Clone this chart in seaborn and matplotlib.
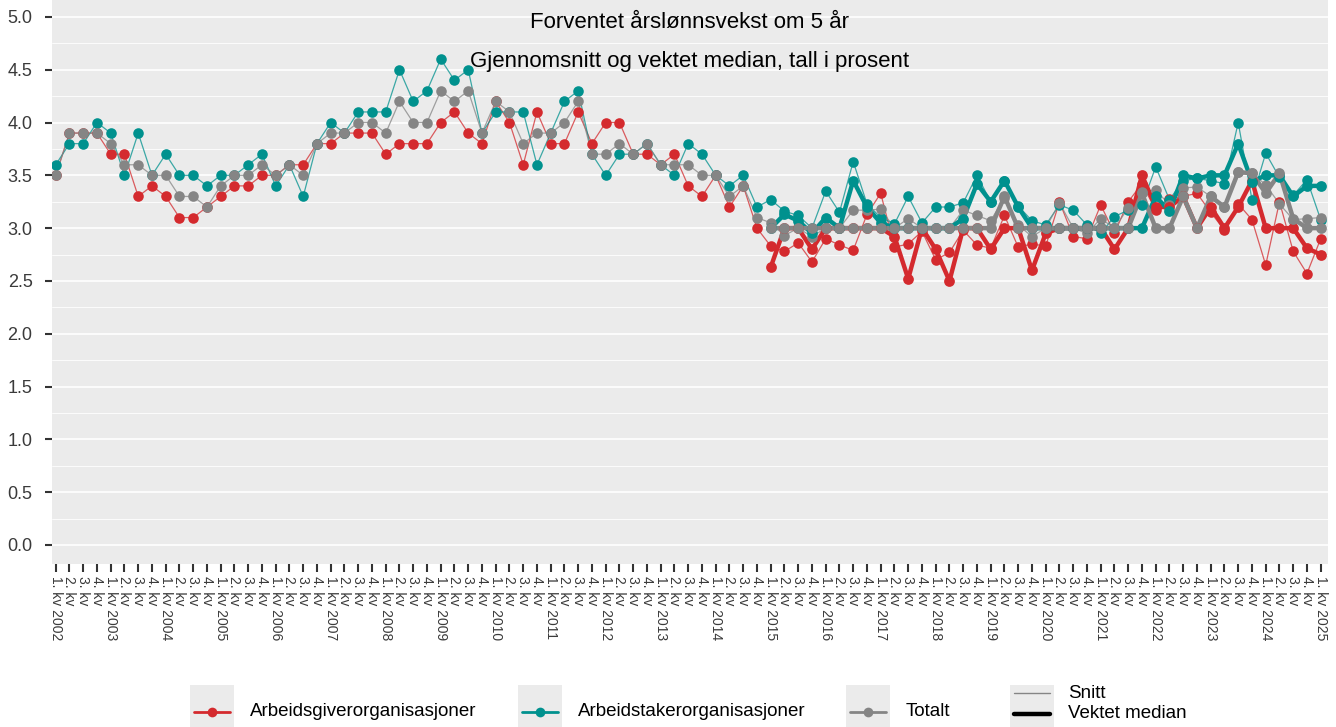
import numpy as np
import pandas as pd
import matplotlib
matplotlib.use("Agg")
import matplotlib.pyplot as plt
import seaborn as sns
from matplotlib.lines import Line2D
from matplotlib.patches import Rectangle

# ---------------- data ----------------
years = list(range(2002, 2026))
quarter_labels = [f"{q}. kv {y}" if q == 1 else f"{q}. kv" for y in years for q in range(1, 5)][:93]

groups = ["Arbeidsgiverorganisasjoner", "Arbeidstakerorganisasjoner", "Totalt"]
colors = ["#D42A2E", "#00918E", "#858585"]
measures = ["Snitt", "Vektet median"]

red_mean = [3.5, 3.9, 3.9, 3.9, 3.7, 3.7, 3.3, 3.4, 3.3, 3.1, 3.1, 3.2,
            3.3, 3.4, 3.4, 3.5, 3.5, 3.6, 3.6, 3.8, 3.8, 3.9, 3.9, 3.9,
            3.7, 3.8, 3.8, 3.8, 4.0, 4.1, 3.9, 3.8, 4.2, 4.0, 3.6, 4.1,
            3.8, 3.8, 4.1, 3.8, 4.0, 4.0, 3.7, 3.7, 3.6, 3.7, 3.4, 3.3,
            3.5, 3.2, 3.4, 3.0,
            2.83, 2.78, 2.86, 2.68, 2.90, 2.84, 2.79, 3.13, 3.33, 2.82,
            2.85, 2.97, 2.70, 2.77, 2.98, 2.84, 2.81, 3.12, 2.82, 2.85,
            2.83, 3.25, 2.92, 2.90, 3.22, 2.95, 3.25, 3.42, 3.17, 3.28,
            3.30, 3.33, 3.15, 2.98, 3.23, 3.08, 2.65, 3.25, 2.78, 2.57, 2.90]

teal_mean = [3.6, 3.8, 3.8, 4.0, 3.9, 3.5, 3.9, 3.5, 3.7, 3.5, 3.5, 3.4,
             3.5, 3.5, 3.6, 3.7, 3.4, 3.6, 3.3, 3.8, 4.0, 3.9, 4.1, 4.1,
             4.1, 4.5, 4.2, 4.3, 4.6, 4.4, 4.5, 3.9, 4.1, 4.1, 4.1, 3.6,
             3.9, 4.2, 4.3, 3.7, 3.5, 3.7, 3.7, 3.8, 3.6, 3.5, 3.8, 3.7,
             3.5, 3.4, 3.5, 3.2,
             3.27, 3.16, 3.12, 3.00, 3.35, 3.15, 3.63, 3.23, 3.10, 3.04,
             3.30, 3.05, 3.20, 3.20, 3.24, 3.50, 3.25, 3.45, 3.21, 3.07,
             3.03, 3.22, 3.17, 3.03, 2.95, 3.11, 3.17, 3.22, 3.58, 3.27,
             3.45, 3.47, 3.45, 3.42, 4.00, 3.27, 3.71, 3.48, 3.31, 3.46, 3.08]

grey_mean = [3.5, 3.9, 3.9, 3.9, 3.8, 3.6, 3.6, 3.5, 3.5, 3.3, 3.3, 3.2,
             3.4, 3.5, 3.5, 3.6, 3.5, 3.6, 3.5, 3.8, 3.9, 3.9, 4.0, 4.0,
             3.9, 4.2, 4.0, 4.0, 4.3, 4.2, 4.3, 3.9, 4.2, 4.1, 3.8, 3.9,
             3.9, 4.0, 4.2, 3.7, 3.7, 3.8, 3.7, 3.8, 3.6, 3.6, 3.6, 3.5,
             3.5, 3.3, 3.4, 3.1,
             3.05, 2.93, 3.00, 2.92, 3.00, 3.00, 3.17, 3.17, 3.18, 3.00,
             3.09, 3.00, 3.00, 3.00, 3.17, 3.12, 3.07, 3.29, 3.03, 2.92,
             3.00, 3.24, 3.00, 2.95, 3.09, 3.00, 3.19, 3.34, 3.36, 3.22,
             3.38, 3.39, 3.30, 3.20, 3.53, 3.52, 3.41, 3.23, 3.08, 3.09, 3.10]

# weighted median, from 1. kv 2015
median_start_label = "1. kv 2015"
red_median = [2.63, 3.00, 3.00, 2.80, 3.00, 3.00, 3.00, 3.00, 3.00, 2.92,
              2.52, 3.00, 2.80, 2.50, 3.00, 3.00, 2.80, 3.00, 3.00, 2.60,
              2.95, 3.00, 3.00, 3.00, 3.00, 2.80, 3.00, 3.50, 3.20, 3.20,
              3.30, 3.00, 3.20, 3.00, 3.20, 3.45, 3.00, 3.00, 3.00, 2.81, 2.75]
teal_median = [3.00, 3.13, 3.07, 2.95, 3.10, 3.00, 3.45, 3.20, 3.05, 3.00,
               3.00, 3.00, 3.00, 3.00, 3.09, 3.42, 3.25, 3.45, 3.20, 3.00,
               3.00, 3.00, 3.00, 3.00, 3.00, 3.00, 3.00, 3.00, 3.30, 3.16,
               3.50, 3.47, 3.50, 3.50, 3.80, 3.44, 3.50, 3.50, 3.30, 3.40, 3.40]
grey_median = [3.00, 3.00, 3.00, 3.00, 3.00, 3.00, 3.00, 3.00, 3.00, 3.00,
               3.00, 3.00, 3.00, 3.00, 3.00, 3.00, 3.00, 3.30, 3.00, 3.00,
               3.00, 3.00, 3.00, 3.00, 3.00, 3.00, 3.00, 3.33, 3.00, 3.00,
               3.30, 3.00, 3.30, 3.20, 3.53, 3.52, 3.33, 3.52, 3.09, 3.00, 3.00]

title1 = "Forventet årslønnsvekst om 5 år"
title2 = "Gjennomsnitt og vektet median, tall i prosent"

# ---------------- long table ----------------
start = quarter_labels.index(median_start_label)
series = {
    ("Snitt", groups[0]): (red_mean, 0),
    ("Snitt", groups[1]): (teal_mean, 0),
    ("Snitt", groups[2]): (grey_mean, 0),
    ("Vektet median", groups[0]): (red_median, start),
    ("Vektet median", groups[1]): (teal_median, start),
    ("Vektet median", groups[2]): (grey_median, start),
}
rows = []
for (m, g), (vals, off) in series.items():
    for k, v in enumerate(vals):
        rows.append({"pos": off + k, "kvartal": quarter_labels[off + k],
                     "verdi": v, "gruppe": g, "mål": m})
df = pd.DataFrame(rows)

# ---------------- plot ----------------
sns.set_theme(style="darkgrid")
plt.rcParams["font.family"] = ["Liberation Sans", "DejaVu Sans"]

W, H = 1336, 727
fig = plt.figure(figsize=(W / 100, H / 100), dpi=100)
fig.patch.set_facecolor("white")
px_l, px_r, px_t, px_b = 52, 1328, 0, 564
ax = fig.add_axes([px_l / W, (H - px_b) / H, (px_r - px_l) / W, (px_b - px_t) / H])
ax.set_facecolor("#EBEBEB")

palette = dict(zip(groups, colors))
style = {"Snitt": dict(lw=0.9, alpha=0.75, s=58),
         "Vektet median": dict(lw=3.2, alpha=1.0, s=60)}

for m in measures:
    for g in groups:
        sub = df[(df["mål"] == m) & (df["gruppe"] == g)]
        st = style[m]
        sns.lineplot(data=sub, x="pos", y="verdi", color=palette[g], linewidth=st["lw"],
                     alpha=st["alpha"], ax=ax, legend=False, zorder=3)
        sns.scatterplot(data=sub, x="pos", y="verdi", color=palette[g], s=st["s"],
                        linewidth=0, ax=ax, legend=False, zorder=4)

ax.set_xlim(-0.27, 92.53)
ax.set_ylim(-0.18, 5.16)
ax.set_xlabel("")
ax.set_ylabel("")

ax.set_xticks(range(len(quarter_labels)))
ax.set_xticklabels(quarter_labels, rotation=270, va="top", ha="center",
                   fontsize=10, color="#3A3A3A")
q1_pos = [i for i, lab in enumerate(quarter_labels) if lab.startswith("1. kv")]
ax.set_xticks(q1_pos, minor=True)

yt = np.arange(0, 5.01, 0.5)
ax.set_yticks(yt)
ax.set_yticklabels([f"{v:.1f}" for v in yt], fontsize=13, color="#3A3A3A")
ax.set_yticks(np.arange(0.25, 5.0, 0.5), minor=True)

ax.grid(False)
ax.yaxis.grid(True, which="major", color="white", linewidth=1.2)
ax.yaxis.grid(True, which="minor", color="white", linewidth=0.6)
ax.xaxis.grid(True, which="minor", color="white", linewidth=1.2)
ax.set_axisbelow(True)
for sp in ax.spines.values():
    sp.set_visible(False)
ax.tick_params(axis="x", which="major", length=6, width=1.5, color="#333333",
               bottom=True, pad=3)
ax.tick_params(axis="y", which="major", length=5, width=1.5, color="#333333",
               left=True, pad=9)
ax.tick_params(axis="both", which="minor", length=0)

ax.text(0.5, 1 - 22 / 564, title1, transform=ax.transAxes, ha="center", va="center",
        fontsize=16, color="black")
ax.text(0.5, 1 - 62 / 564, title2, transform=ax.transAxes, ha="center", va="center",
        fontsize=16, color="black")

# ---------------- legend (drawn manually, ggplot-like) ----------------
def fx(x):
    return x / W

def fy(y):
    return (H - y) / H

key_top, key_bot = 685, 727
key_w = 44
legend_items = [(190, 250, groups[0], colors[0]),
                (518, 578, groups[1], colors[1]),
                (846, 906, groups[2], colors[2])]
for kx, tx, lab, col in legend_items:
    fig.patches.append(Rectangle((fx(kx), fy(key_bot)), fx(key_w), (key_bot - key_top) / H,
                                 transform=fig.transFigure, facecolor="#EBEBEB",
                                 edgecolor="none", zorder=1))
    ymid = 712
    fig.lines.append(Line2D([fx(kx + 4), fx(kx + key_w - 4)], [fy(ymid), fy(ymid)],
                            transform=fig.transFigure, color=col, linewidth=2.0, zorder=2))
    fig.lines.append(Line2D([fx(kx + key_w / 2)], [fy(ymid)], transform=fig.transFigure,
                            color=col, marker="o", markersize=7, markeredgewidth=0,
                            linestyle="none", zorder=3))
    fig.text(fx(tx), fy(ymid), lab, ha="left", va="center", fontsize=13.5, color="black")

kx = 1010
fig.patches.append(Rectangle((fx(kx), fy(key_bot)), fx(key_w), (key_bot - key_top) / H,
                             transform=fig.transFigure, facecolor="#EBEBEB",
                             edgecolor="none", zorder=1))
for ym, lw, col, lab in [(693, 1.0, "#858585", "Snitt"), (714, 3.2, "black", "Vektet median")]:
    fig.lines.append(Line2D([fx(kx + 4), fx(kx + key_w - 4)], [fy(ym), fy(ym)],
                            transform=fig.transFigure, color=col, linewidth=lw, zorder=2))
    fig.text(fx(1068), fy(ym), lab, ha="left", va="center", fontsize=13.5, color="black")

fig.savefig("out.png", dpi=100, facecolor="white")
